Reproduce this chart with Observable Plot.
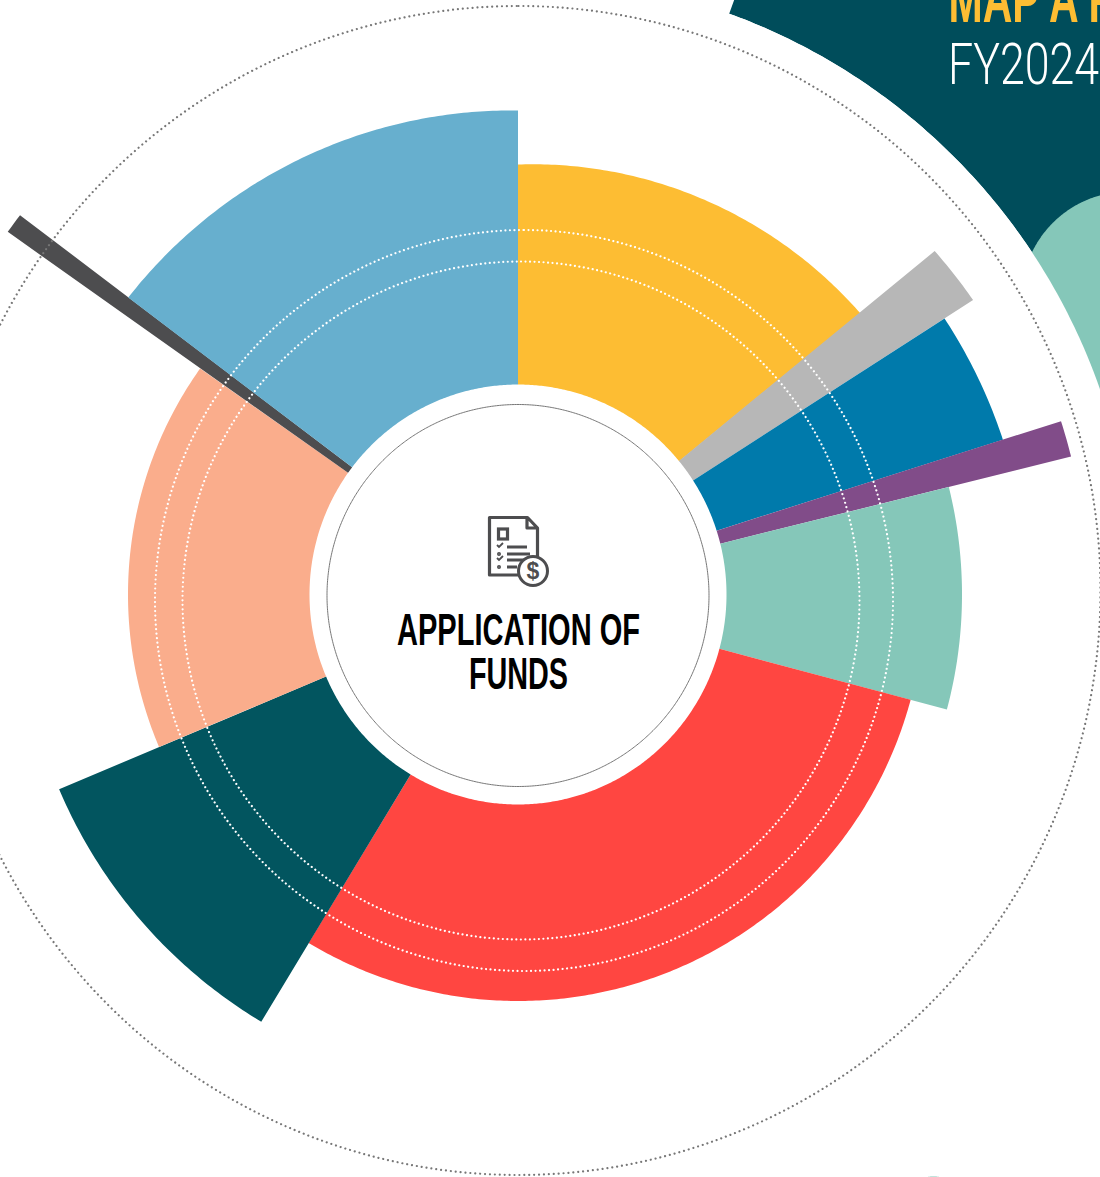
<!DOCTYPE html>
<html>
<head>
<meta charset="utf-8">
<style>html,body{margin:0;padding:0;background:#fff}svg{display:block}</style>
<script src="https://cdn.jsdelivr.net/npm/d3@7"></script>
<script src="https://cdn.jsdelivr.net/npm/@observablehq/plot@0.6"></script>
</head>
<body>
<div id="chart"></div>
<script>
// Funds wheel: one wedge per category, angle in degrees clockwise from 12 o'clock
const categories = ["A","B","C","D","E","F","G","H","I","J"];
const startAngles = [0, 50.5, 57.1, 72.3, 76, 105, 211, 247, 305.4, 307.3];
const endAngles = [50.6, 57.1, 72.3, 76, 105, 211, 247, 305.4, 307.3, 360];
const outerAtStart = [430, 540, 508, 570, 444, 406.5, 498.5, 390, 626, 490];
const outerAtEnd = [443, 542, 509, 570, 444, 406.5, 498.5, 390, 626, 484];
const innerRx = 208.5;
const innerRy = 210;
const wedgeColors = ["#FDBD33","#B7B7B7","#007AAB","#814C89","#85C7B9","#FF4641","#02555F","#FAAD8C","#4D4D4F","#67AFCE"];

// Dotted reference rings
const ringNames = ["outer","upper","lower"];
const ringCx = [0, 5.5, 2.5];
const ringCy = [4, -6, -6];
const ringRx = [582, 369, 338.5];
const ringRy = [584.5, 370.5, 339];

const titleLines = ["APPLICATION OF","FUNDS"];
const titleY = [-50, -94];
const titleWidths = [243, 99];

const toPolar = (cx, cy, rx, ry, deg) => {
  const t = deg * Math.PI / 180;
  return {x: cx + rx * Math.sin(t), y: cy + ry * Math.cos(t)};
};
const sweep = (a0, a1) => {
  const n = Math.max(2, Math.ceil(Math.abs(a1 - a0) * 2));
  return d3.range(n + 1).map(i => a0 + (a1 - a0) * i / n);
};
const wedgePoints = categories.flatMap((category, i) => {
  const a0 = startAngles[i], a1 = endAngles[i];
  const outer = sweep(a0, a1).map(a => {
    const r = outerAtStart[i] + (outerAtEnd[i] - outerAtStart[i]) * (a - a0) / (a1 - a0);
    return {category, ...toPolar(-0.5, 0, r, r, a)};
  });
  const inner = sweep(a1, a0).map(a => ({category, ...toPolar(-0.5, 0, innerRx, innerRy, a)}));
  return [...outer, ...inner];
});
const ringPoints = ringNames.flatMap((ring, i) =>
  sweep(0, 360).map(a => ({ring, ...toPolar(ringCx[i], ringCy[i], ringRx[i], ringRy[i], a)})));

// Neighbouring panel of the page, cut off by the frame
const backdrop = [
  ...sweep(20, 72).map(a => toPolar(0, 2, 1100, 1100, a)),
  ...sweep(72, 20).map(a => toPolar(0, 2, 616, 616, a))
];
const disc = (cx, cy, r) => sweep(0, 360).map(a => toPolar(cx, cy, r, r, a));
const panelBlob = disc(610, 296, 107);
const panelGap = disc(0, 2, 616);
const cornerBlob = disc(415, -622, 40);

const fitText = widths => (index, scales, values, dims, ctx, next) => {
  const g = next(index, scales, values, dims, ctx);
  d3.select(g).selectAll("text")
    .attr("textLength", (d, i) => widths[i])
    .attr("lengthAdjust", "spacingAndGlyphs");
  return g;
};

const icon = (index, {x, y}) => {
  const ink = "#4D4D4F";
  const g = d3.create("svg:g").attr("transform", `translate(${x(0)},${y(0)})`)
    .attr("fill", "none").attr("stroke", ink).attr("stroke-width", 3.2);
  g.append("path").attr("stroke-linejoin", "round")
    .attr("d", "M-28.5,-76.5H9.5L19.5,-66V-19H-28.5Z M9,-76V-66H19");
  g.append("rect").attr("x", -19.5).attr("y", -65).attr("width", 9).attr("height", 10);
  g.append("path").attr("stroke-width", 2.8)
    .attr("d", "M-11,-47H9 M-11,-40H12 M-11,-34H9 M-11,-27H-1");
  g.append("path").attr("stroke-width", 1.8)
    .attr("d", "M-21,-49L-19,-47L-15,-51 M-21,-36L-19,-34L-15,-38");
  g.append("circle").attr("cx", -19).attr("cy", -40).attr("r", 1.2).attr("stroke-width", 1.6);
  g.append("circle").attr("cx", -19).attr("cy", -27).attr("r", 1.2).attr("stroke-width", 1.6);
  g.append("circle").attr("cx", 15).attr("cy", -23).attr("r", 14.5).attr("fill", "#fff").attr("stroke-width", 3);
  g.append("text").attr("x", 15).attr("y", -15).attr("text-anchor", "middle")
    .attr("font-family", "'Liberation Sans Narrow','Liberation Sans',sans-serif")
    .attr("font-weight", 700).attr("font-size", 23).attr("fill", ink).attr("stroke", "none").text("$");
  return g.node();
};

const narrow = "'Liberation Sans Narrow','Liberation Sans',sans-serif";

const chart = Plot.plot({
  width: 1100,
  height: 1177,
  margin: 0,
  x: {domain: [-518, 582], range: [0, 1100], axis: null},
  y: {domain: [594, -583], range: [0, 1177], axis: null},
  color: {domain: categories, range: wedgeColors},
  marks: [
    Plot.line(backdrop, {x: "x", y: "y", fill: "#004D5B", stroke: "none"}),
    Plot.line(panelBlob, {x: "x", y: "y", fill: "#85C7B9", stroke: "none"}),
    Plot.line(panelGap, {x: "x", y: "y", fill: "#fff", stroke: "none"}),
    Plot.line(cornerBlob, {x: "x", y: "y", fill: "#85C7B9", stroke: "none"}),
    Plot.text(["MAP A F"], {
      x: 430, y: 573, text: d => d, textAnchor: "start", lineAnchor: "bottom",
      fill: "#FDBD33", fontFamily: narrow, fontWeight: 700, fontSize: 66,
      render: fitText([165])
    }),
    Plot.text(["FY2024"], {
      x: 429.5, y: 511, text: d => d, textAnchor: "start", lineAnchor: "bottom",
      fill: "#fff", fontFamily: "Roboto", fontWeight: 300, fontSize: 58,
      render: fitText([151])
    }),
    Plot.line(wedgePoints, {x: "x", y: "y", z: "category", fill: "category", stroke: "none"}),
    Plot.line(ringPoints.filter(d => d.ring !== "outer"), {
      x: "x", y: "y", z: "ring", stroke: "#fff", strokeWidth: 2.2, strokeLinecap: "round", strokeDasharray: "0.01 4.5"
    }),
    Plot.line(ringPoints.filter(d => d.ring === "outer"), {
      x: "x", y: "y", stroke: "#777", strokeWidth: 2.2, strokeLinecap: "round", strokeDasharray: "0.01 4.9"
    }),
    Plot.line(disc(-0.5, -1, 191), {x: "x", y: "y", stroke: "#777", strokeWidth: 1}),
    icon,
    Plot.text(titleLines, {
      x: 0, y: (d, i) => titleY[i], text: d => d, textAnchor: "middle", lineAnchor: "bottom",
      fill: "#000", fontFamily: narrow, fontWeight: 700, fontSize: 43.5,
      render: fitText(titleWidths)
    })
  ]
});
document.getElementById("chart").append(chart);
</script>
</body>
</html>
